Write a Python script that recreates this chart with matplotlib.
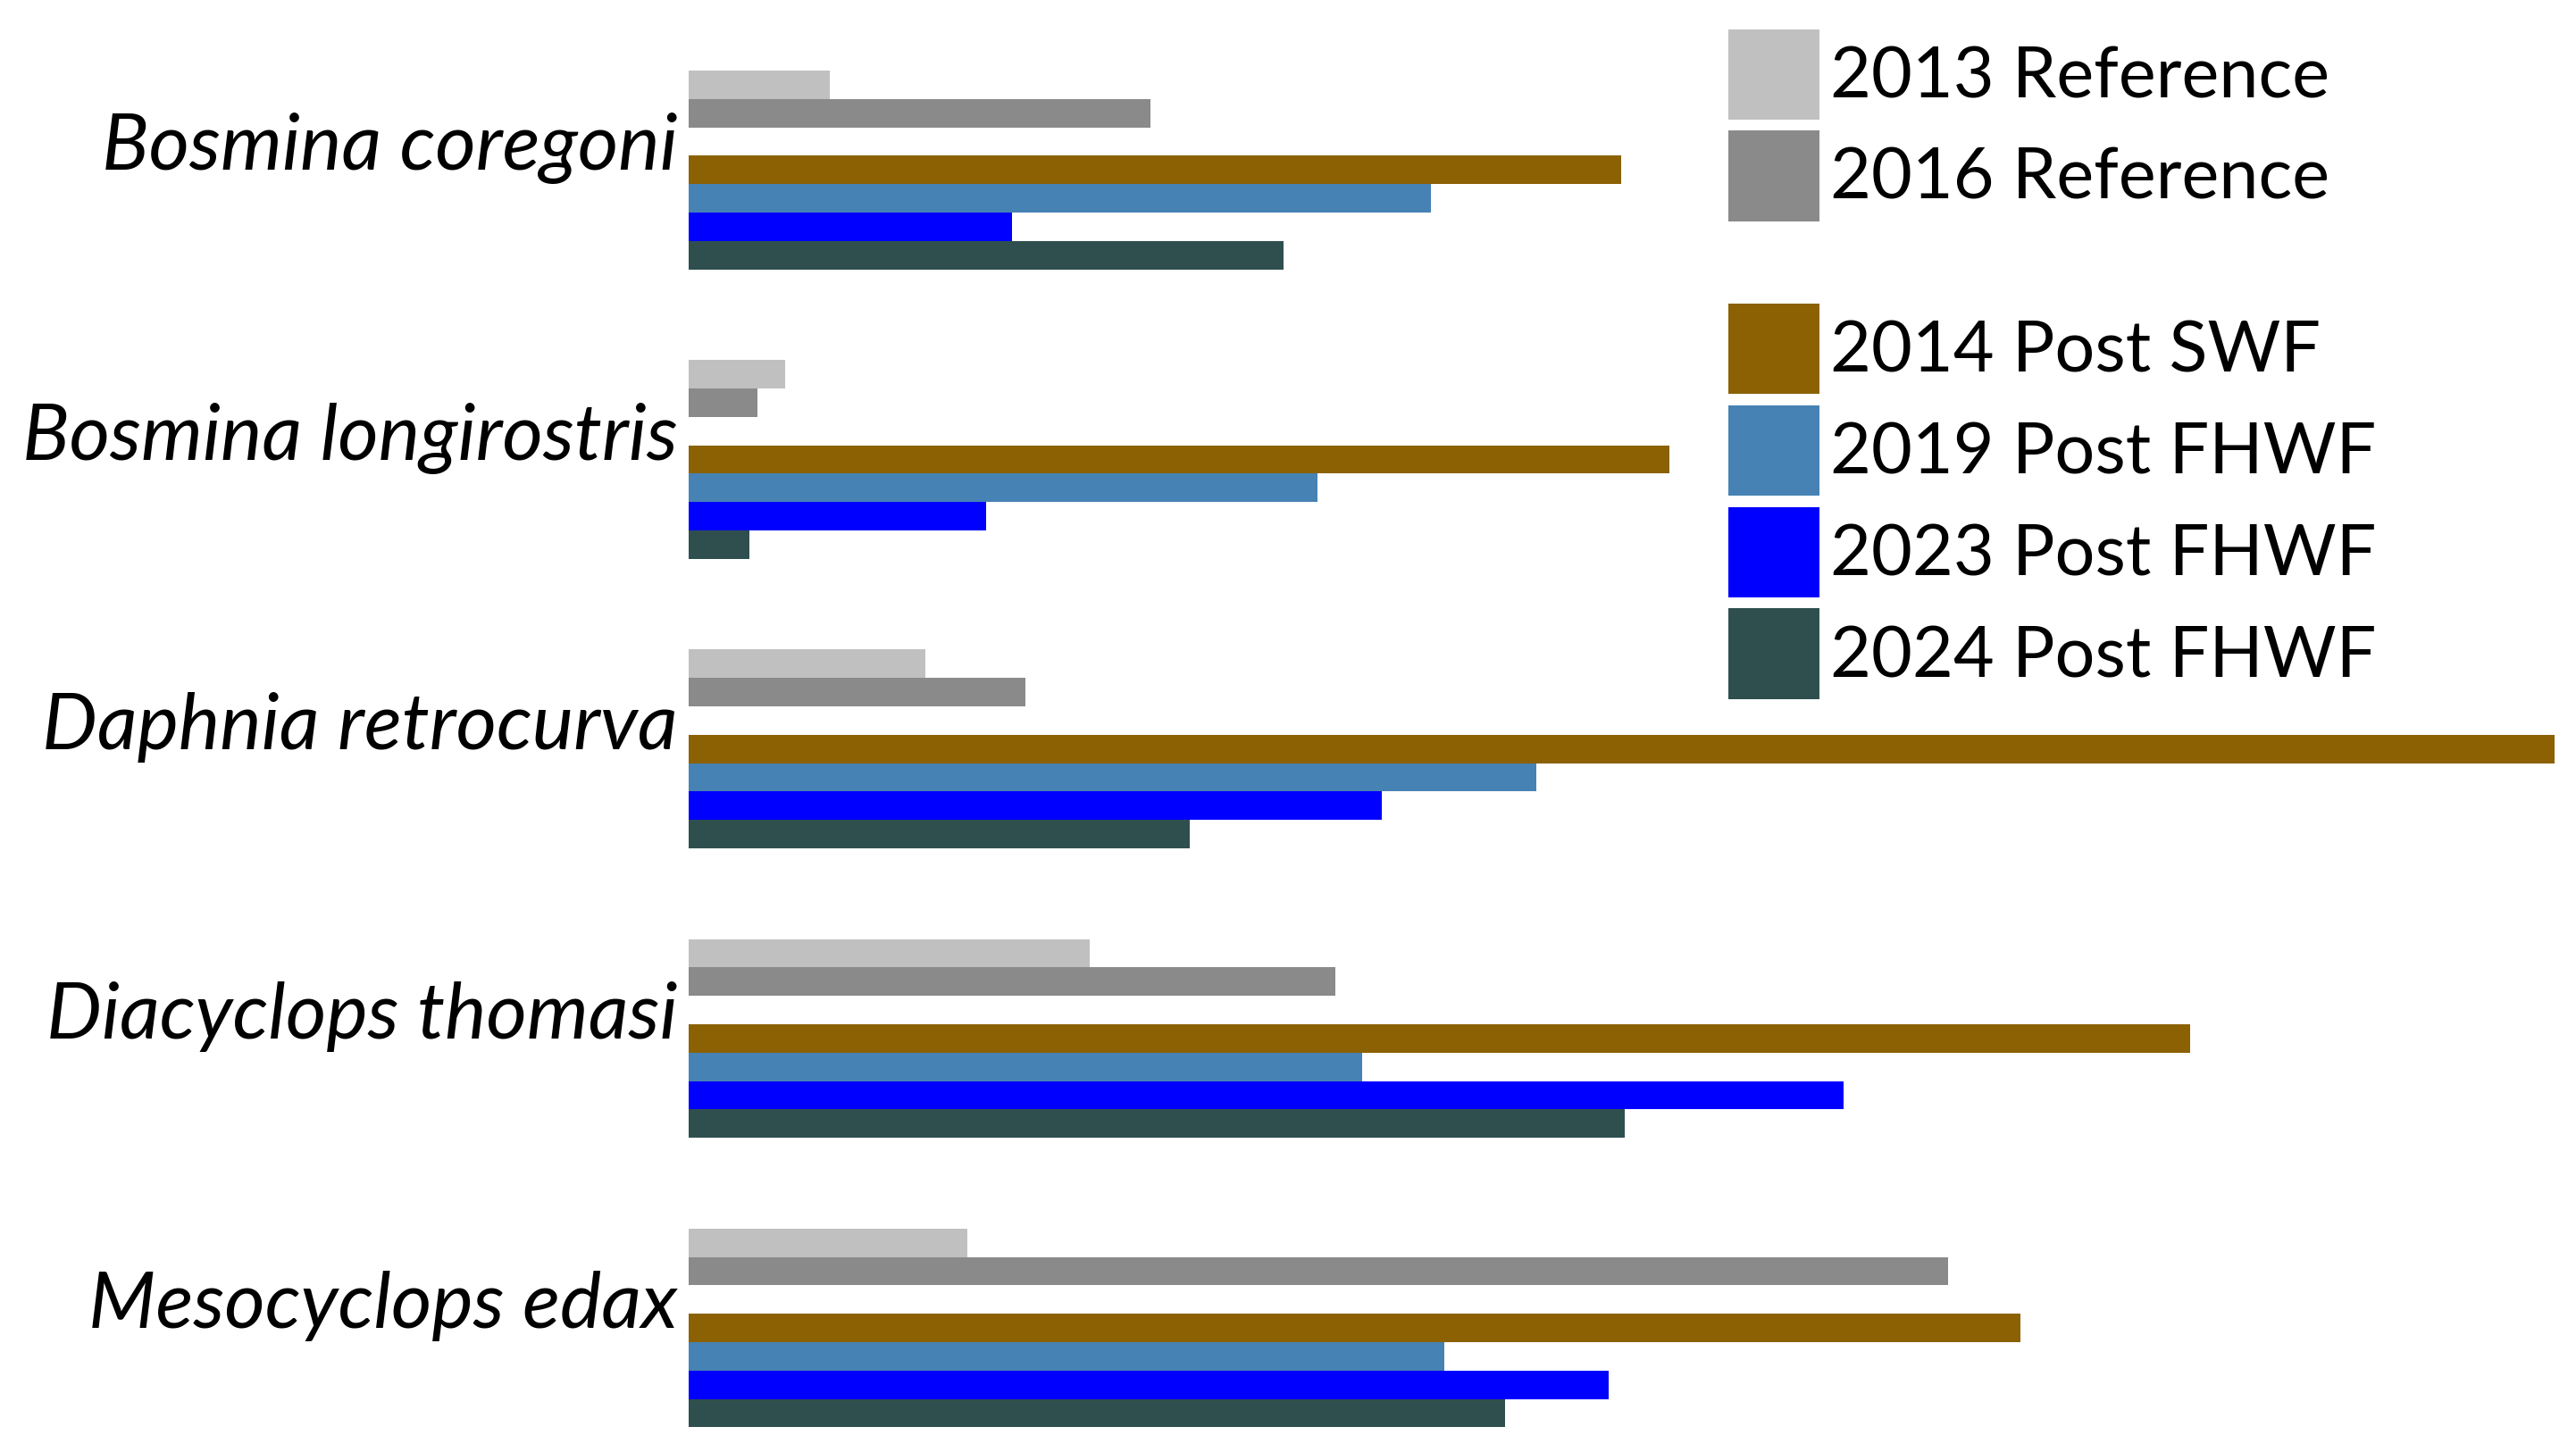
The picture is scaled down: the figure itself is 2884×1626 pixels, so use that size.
import numpy as np
import matplotlib.pyplot as plt
from matplotlib.patches import Patch

species = ["Bosmina coregoni", "Bosmina longirostris", "Daphnia retrocurva",
           "Diacyclops thomasi", "Mesocyclops edax"]

ref_labels = ["2013 Reference", "2016 Reference"]
post_labels = ["2014 Post SWF", "2019 Post FHWF", "2023 Post FHWF", "2024 Post FHWF"]

# values (relative bar lengths)
ref_2013 = [86, 59, 144, 244, 170]
ref_2016 = [281, 42, 205, 394, 767]
post_2014 = [568, 597, 1136, 914, 811]
post_2019 = [452, 383, 516, 410, 460]
post_2023 = [197, 181, 422, 703, 560]
post_2024 = [362, 37, 305, 570, 497]

ref_colors = ["#C0C0C0", "#8A8A8A"]
post_colors = ["#8B6104", "steelblue", "blue", "darkslategray"]

plt.rcParams['font.family'] = ['Lato', 'DejaVu Sans']

fig = plt.figure(figsize=(28.84, 16.26), dpi=100)
ax = fig.add_axes([0.2673, 0.017, 0.7243, 0.9344])

group_step = 10.2
base = np.arange(len(species)) * group_step
series = [ref_2013, ref_2016, post_2014, post_2019, post_2023, post_2024]
colors = ref_colors + post_colors
offsets = [0, 1, 3, 4, 5, 6]
for vals, col, off in zip(series, colors, offsets):
    ax.barh(base + off, vals, height=1.0, color=col, edgecolor='none')

ax.set_xlim(0, max(post_2014))
ax.set_ylim(base[-1] + 6.5, -0.5)
ax.set_yticks(base + 2)
ax.set_yticklabels(species, fontsize=63, style='italic')
ax.tick_params(axis='y', length=0, pad=9)
ax.set_xticks([])
for s in ax.spines.values():
    s.set_visible(False)

fs = 57
common = dict(frameon=False, fontsize=fs, loc='upper left', borderpad=0,
              borderaxespad=0, handlelength=1.29, handleheight=1.59,
              handletextpad=0.15, labelspacing=0.16)
h1 = [Patch(facecolor=c, edgecolor='none') for c in ref_colors]
leg1 = fig.legend(h1, ref_labels, bbox_to_anchor=(0.671, 0.980), **common)
h2 = [Patch(facecolor=c, edgecolor='none') for c in post_colors]
leg2 = fig.legend(h2, post_labels, bbox_to_anchor=(0.671, 0.791), **common)

fig.savefig("out.png", dpi=100)
